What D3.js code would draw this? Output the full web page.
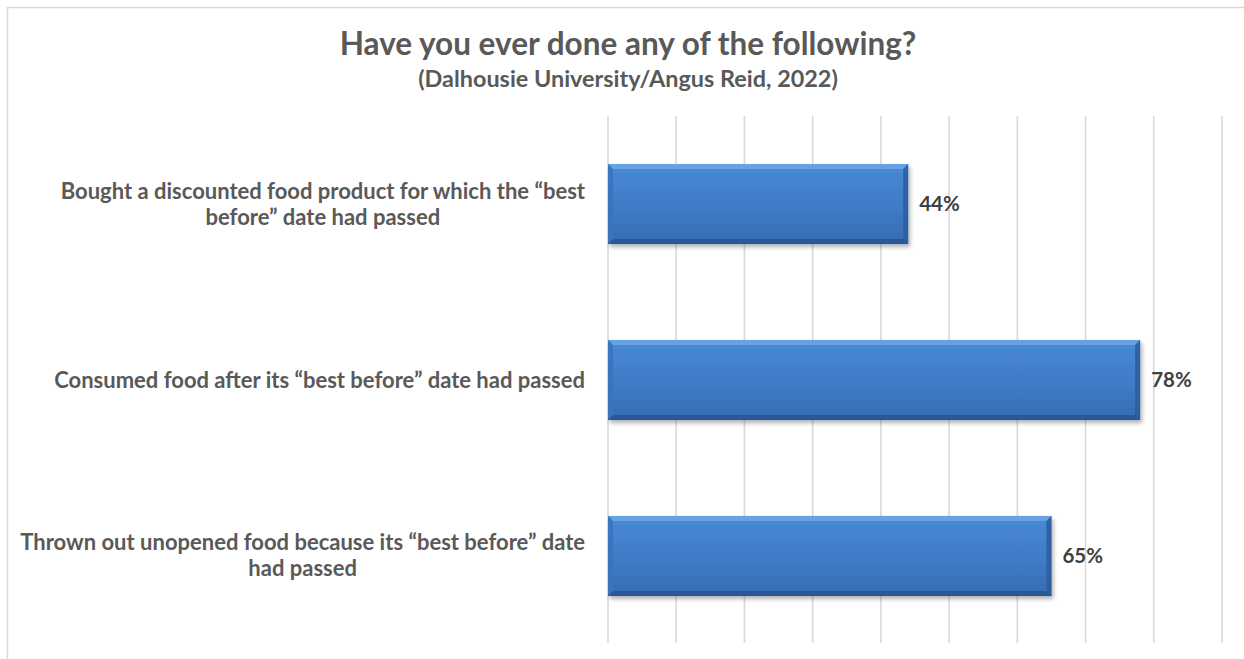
<!DOCTYPE html>
<html>
<head>
<meta charset="utf-8">
<script src="https://cdn.jsdelivr.net/npm/d3@7"></script>
<style>
  html, body { margin: 0; padding: 0; background: #fff; }
  svg { display: block; }
</style>
</head>
<body>
<svg id="chart" width="1244" height="659"></svg>
<script>
// Survey responses, share of respondents (%)
const categories = [
  "Bought a discounted food product for which the \u201cbest\nbefore\u201d date had passed",
  "Consumed food after its \u201cbest before\u201d date had passed",
  "Thrown out unopened food because its \u201cbest before\u201d date\nhad passed"
];
const values = [44, 78, 65];
const valueLabels = ["44%", "78%", "65%"];
const gridTicks = [0, 10, 20, 30, 40, 50, 60, 70, 80, 90];
const titleText = "Have you ever done any of the following?";
const subtitleText = "(Dalhousie University/Angus Reid, 2022)";

const W = 1244, H = 659;
const FONT = "Lato, 'Open Sans', sans-serif";
const svg = d3.select("#chart");

const defs = svg.append("defs");
const grad = defs.append("linearGradient")
  .attr("id", "barFill").attr("x1", 0).attr("y1", 0).attr("x2", 0).attr("y2", 1);
grad.append("stop").attr("offset", "0%").attr("stop-color", "#4989d7");
grad.append("stop").attr("offset", "55%").attr("stop-color", "#3f7bc6");
grad.append("stop").attr("offset", "100%").attr("stop-color", "#376bb0");

const shadow = defs.append("filter").attr("id", "barShadow")
  .attr("x", "-5%").attr("y", "-20%").attr("width", "115%").attr("height", "150%");
shadow.append("feDropShadow")
  .attr("dx", 2).attr("dy", 3).attr("stdDeviation", 2.2)
  .attr("flood-color", "#000").attr("flood-opacity", 0.3);

// chart frame
svg.append("rect")
  .attr("x", 7.5).attr("y", 7.5).attr("width", W).attr("height", H)
  .attr("fill", "none").attr("stroke", "#d9d9d9").attr("stroke-width", 1.5);

const x = d3.scaleLinear().domain([0, 90]).range([608, 1222]);
const y = d3.scaleBand().domain(categories).range([116, 644])
  .paddingInner(0.545).paddingOuter(0.2727);

// vertical gridlines
svg.append("g").selectAll("line").data(gridTicks).join("line")
  .attr("x1", d => x(d)).attr("x2", d => x(d))
  .attr("y1", 116).attr("y2", 643)
  .attr("stroke", "#d9d9d9").attr("stroke-width", 1.6);

// titles
svg.append("text").attr("x", 628).attr("y", 55)
  .attr("text-anchor", "middle").attr("font-family", FONT)
  .attr("font-weight", "bold").attr("font-size", 31.5).attr("fill", "#595959")
  .text(titleText);
svg.append("text").attr("x", 628).attr("y", 87)
  .attr("text-anchor", "middle").attr("font-family", FONT)
  .attr("font-weight", "bold").attr("font-size", 23.4).attr("fill", "#595959")
  .text(subtitleText);

// bars with bevelled edges
const data = categories.map((c, i) => ({ c, v: values[i], label: valueLabels[i] }));
const b = 5;
const bars = svg.append("g").selectAll("g").data(data).join("g");
bars.each(function(d) {
  const g = d3.select(this);
  const x0 = x(0), x1 = x(d.v), y0 = y(d.c), y1 = y(d.c) + y.bandwidth();
  g.append("rect").attr("x", x0).attr("y", y0)
    .attr("width", x1 - x0).attr("height", y1 - y0)
    .attr("fill", "url(#barFill)").attr("filter", "url(#barShadow)");
  const poly = (pts, fill, op) => g.append("polygon")
    .attr("points", pts.map(p => p.join(",")).join(" "))
    .attr("fill", fill).attr("opacity", op);
  poly([[x0, y0], [x1, y0], [x1 - b, y0 + b], [x0 + b, y0 + b]], "#72a8ea", 0.8);
  poly([[x0, y0], [x0 + b, y0 + b], [x0 + b, y1 - b], [x0, y1]], "#3a73bd", 0.9);
  poly([[x1, y0], [x1, y1], [x1 - b, y1 - b], [x1 - b, y0 + b]], "#2d5c9a", 0.85);
  poly([[x0, y1], [x0 + b, y1 - b], [x1 - b, y1 - b], [x1, y1]], "#2a5690", 0.9);
});

// value labels
svg.append("g").selectAll("text").data(data).join("text")
  .attr("x", d => x(d.v) + 11)
  .attr("y", d => y(d.c) + y.bandwidth() / 2 + 7)
  .attr("font-family", FONT).attr("font-weight", "bold")
  .attr("font-size", 20.5).attr("fill", "#404040")
  .text(d => d.label);

// category labels: lines centred on each other, block right-aligned to the axis
const labelRight = 585;
const catG = svg.append("g");
data.forEach(d => {
  const lines = d.c.split("\n");
  const t = catG.append("text")
    .attr("font-family", FONT).attr("font-weight", "bold")
    .attr("font-size", 22).attr("fill", "#595959")
    .attr("text-anchor", "middle");
  const spans = lines.map(l => t.append("tspan").text(l));
  const maxW = d3.max(spans, s => s.node().getComputedTextLength());
  const cx = labelRight - maxW / 2;
  const lh = 26;
  const cy = y(d.c) + y.bandwidth() / 2;
  const top = cy - (lines.length - 1) * lh / 2 + 7.5;
  spans.forEach((s, i) => s.attr("x", cx).attr("y", top + i * lh));
});
</script>
</body>
</html>
